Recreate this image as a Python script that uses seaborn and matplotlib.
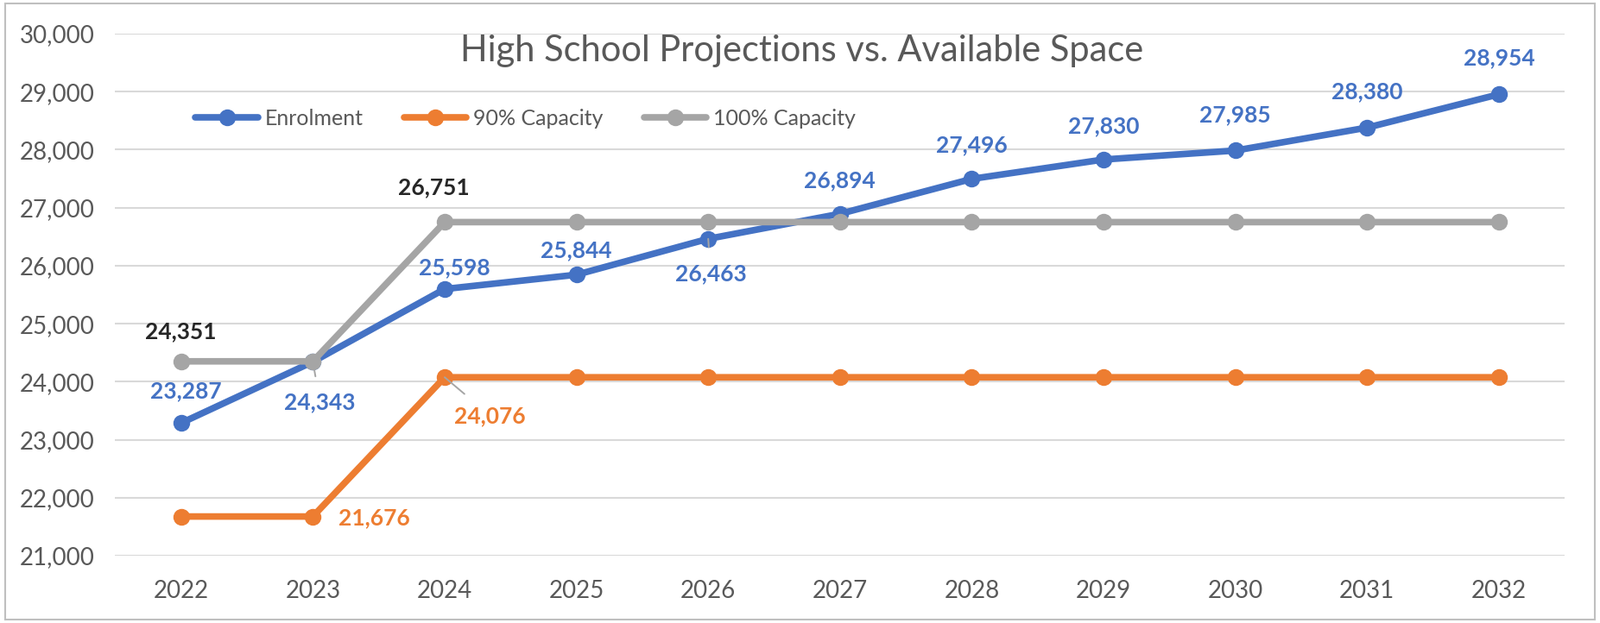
import matplotlib
matplotlib.use("Agg")
import matplotlib.pyplot as plt
from matplotlib.patches import Rectangle
import pandas as pd
import seaborn as sns

# data
years = [2022, 2023, 2024, 2025, 2026, 2027, 2028, 2029, 2030, 2031, 2032]
enrolment = [23287, 24343, 25598, 25844, 26463, 26894, 27496, 27830, 27985, 28380, 28954]
cap_90 = [21676, 21676, 24076, 24076, 24076, 24076, 24076, 24076, 24076, 24076, 24076]
cap_100 = [24351, 24351, 26751, 26751, 26751, 26751, 26751, 26751, 26751, 26751, 26751]
series_names = ["Enrolment", "90% Capacity", "100% Capacity"]
colors = ["#4472C4", "#ED7D31", "#A5A5A5"]

df = pd.DataFrame({
    "year": years * 3,
    "value": enrolment + cap_90 + cap_100,
    "series": [series_names[0]] * 11 + [series_names[1]] * 11 + [series_names[2]] * 11,
})

sns.set_theme(style="white")
plt.rcParams["font.family"] = ["Lato", "DejaVu Sans"]

fig = plt.figure(figsize=(18.53, 7.22), dpi=100)
ax = fig.add_axes([0.072, 0.108, 0.906, 0.838])

sns.lineplot(data=df, x="year", y="value", hue="series", palette=colors,
             marker="o", markersize=14, markeredgewidth=0, linewidth=5.5,
             ax=ax, legend=True)

ax.set_xlim(2021.5, 2032.5)
ax.set_ylim(21000, 30000)
ax.set_xticks(years)
ax.set_xticklabels([str(y) for y in years])
ax.set_yticks(range(21000, 30001, 1000))
ax.yaxis.set_major_formatter(matplotlib.ticker.FuncFormatter(lambda v, p: f"{int(v):,}"))
ax.grid(axis="y", color="#D9D9D9", linewidth=1.5)
ax.set_axisbelow(True)
for s in ax.spines.values():
    s.set_visible(False)
ax.tick_params(axis="both", labelsize=20, colors="#595959", length=0)
ax.tick_params(axis="y", pad=17)
ax.tick_params(axis="x", pad=20)
ax.set_xlabel("")
ax.set_ylabel("")

fig.text(0.501, 0.918, "High School Projections vs. Available Space", ha="center",
         va="center", fontsize=30, color="#595959")

leg = ax.legend(loc="center", bbox_to_anchor=(0.283, 0.838), ncol=3, frameon=False,
                fontsize=18, handlelength=2.9, columnspacing=1.9, handletextpad=0.3,
                labelcolor="#595959")

# data labels: (series values, index, dx, dy in points, color, leader line)
def label(vals, i, dx, dy, color, leader=False):
    kw = {}
    if leader:
        kw["arrowprops"] = dict(arrowstyle="-", color="#A5A5A5", lw=1.4,
                                shrinkA=11, shrinkB=0)
    ax.annotate(f"{vals[i]:,}", (years[i], vals[i]), xytext=(dx, dy),
                textcoords="offset points", ha="center", va="center",
                fontsize=19, fontweight="bold", color=color, **kw)

blue, orange, dark = "#4472C4", "#ED7D31", "#262626"
label(enrolment, 0, 4, 27, blue)
label(enrolment, 1, 6, -34, blue, leader=True)
label(enrolment, 2, 8, 18, blue)
label(enrolment, 3, 0, 20, blue)
label(enrolment, 4, 2, -29, blue, leader=True)
label(enrolment, 5, 0, 28, blue)
label(enrolment, 6, 0, 28, blue)
label(enrolment, 7, 0, 28, blue)
label(enrolment, 8, 0, 30, blue)
label(enrolment, 9, 0, 30, blue)
label(enrolment, 10, 0, 30, blue)
label(cap_90, 1, 51, -1, orange)
label(cap_90, 2, 38, -32, orange, leader=True)
label(cap_100, 0, 0, 25, dark)
label(cap_100, 2, -9, 29, dark)

fig.patches.append(Rectangle((0.003, 0.005), 0.994, 0.99, transform=fig.transFigure,
                             fill=False, edgecolor="#BFBFBF", linewidth=1.5))

fig.savefig("out.png", dpi=100)
